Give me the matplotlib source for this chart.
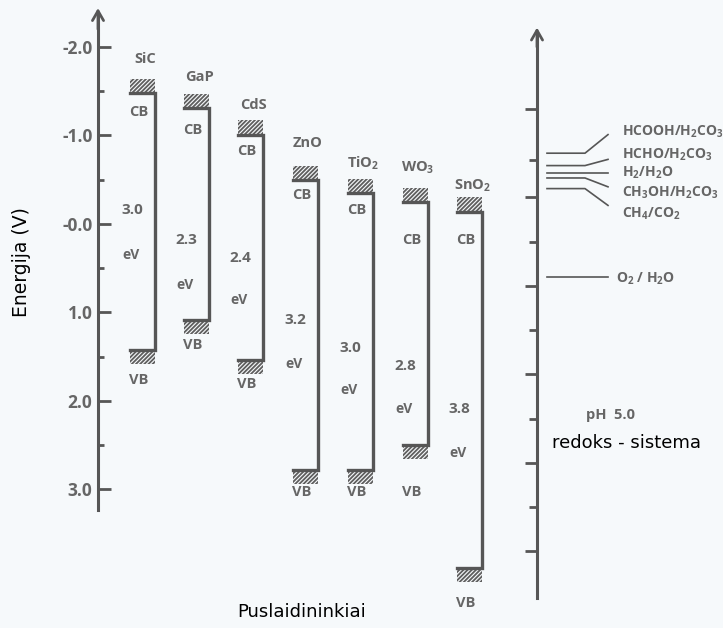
import numpy as np
import matplotlib
matplotlib.use("Agg")
import matplotlib.pyplot as plt

plt.rcParams['font.family'] = ['Open Sans', 'DejaVu Sans']
plt.rcParams['mathtext.default'] = 'regular'
plt.rcParams['hatch.linewidth'] = 1.3

# semiconductors, band edges in V
materials = ['SiC', 'GaP', 'CdS', 'ZnO', 'TiO$_2$', 'WO$_3$', 'SnO$_2$']
cb_edge = [-1.48, -1.31, -1.01, -0.50, -0.35, -0.25, -0.14]
vb_edge = [1.42, 1.08, 1.54, 2.78, 2.78, 2.50, 3.89]
gap_ev = ['3.0', '2.3', '2.4', '3.2', '3.0', '2.8', '3.8']

# redox couples at pH 5.0
couples = ['HCOOH/H$_2$CO$_3$', 'HCHO/H$_2$CO$_3$', 'H$_2$/H$_2$O',
           'CH$_3$OH/H$_2$CO$_3$', 'CH$_4$/CO$_2$', 'O$_2$ / H$_2$O']
redox_pot = [-0.80, -0.66, -0.58, -0.52, -0.40, 0.60]

left_ticks = [-2.0, -1.0, 0.0, 1.0, 2.0, 3.0]
left_labels = ['-2.0', '-1.0', '-0.0', '1.0', '2.0', '3.0']
left_minor = [-1.5, -0.5, 0.5, 1.5, 2.5]
right_major = [-1.3, -0.3, 0.7, 1.7, 2.7, 3.7]
right_minor = [-0.72, 0.2, 1.2, 2.2, 3.2]

# layout (x in pixels, y in V)
band_x = [155, 209, 263, 318, 373, 428, 482]
name_y = [-1.86, -1.66, -1.34, -0.92, -0.69, -0.64, -0.43]
cb_lab_y = [-1.27, -1.06, -0.82, -0.33, -0.16, 0.18, 0.18]
gap_y = [-0.16, 0.18, 0.38, 1.08, 1.40, 1.60, 2.09]
ev_y = [0.35, 0.69, 0.86, 1.58, 1.88, 2.09, 2.59]
vb_lab_y = [1.76, 1.37, 1.81, 3.03, 3.03, 3.03, 4.28]
couple_lab_y = [-1.04, -0.78, -0.58, -0.35, -0.12, 0.62]
couple_end_y = [-1.01, -0.73, -0.58, -0.42, -0.21, 0.60]

gray = '#565656'
tgray = '#666666'
hatch_h = 0.16
band_w = 25

fig = plt.figure(figsize=(7.23, 6.28), dpi=100)
fig.patch.set_facecolor('#f6f9fb')
ax = fig.add_axes([0, 0, 1, 1])
ax.set_facecolor('none')
ax.set_xlim(0, 723)
ax.set_ylim(4.565, -2.531)

# left energy axis
for s in ['top', 'bottom', 'right']:
    ax.spines[s].set_visible(False)
ax.spines['left'].set_position(('data', 98))
ax.spines['left'].set_bounds(-2.37, 3.23)
ax.spines['left'].set_linewidth(2.2)
ax.spines['left'].set_color(gray)
ax.set_xticks([])
ax.set_yticks(left_ticks, left_labels)
ax.set_yticks(left_minor, minor=True)
ax.tick_params(axis='y', which='major', direction='in', length=9, width=2,
               color=gray, labelsize=12.5, labelcolor=tgray, pad=4)
ax.tick_params(axis='y', which='minor', direction='in', length=4.5, width=2,
               color=gray)
for t in ax.get_yticklabels():
    t.set_fontweight('bold')
ax.annotate('', xy=(98, -2.44), xytext=(98, -2.2),
            arrowprops=dict(arrowstyle='->,head_length=0.7,head_width=0.4',
                            lw=2, color=gray, shrinkA=0, shrinkB=0))

# right redox axis
ax2 = ax.twinx()
ax2.set_ylim(4.565, -2.531)
for s in ['top', 'bottom', 'left']:
    ax2.spines[s].set_visible(False)
ax2.spines['right'].set_position(('data', 537))
ax2.spines['right'].set_bounds(-2.15, 4.23)
ax2.spines['right'].set_linewidth(2.2)
ax2.spines['right'].set_color(gray)
ax2.set_yticks(right_major)
ax2.set_yticks(right_minor, minor=True)
ax2.tick_params(axis='y', which='major', direction='in', length=9, width=2,
                color=gray, labelright=False)
ax2.tick_params(axis='y', which='minor', direction='in', length=6, width=2,
                color=gray)
ax2.annotate('', xy=(537, -2.22), xytext=(537, -2.0),
             arrowprops=dict(arrowstyle='->,head_length=0.7,head_width=0.4',
                             lw=2, color=gray, shrinkA=0, shrinkB=0))

# band diagrams
for i, name in enumerate(materials):
    xr = band_x[i]
    xl = xr - band_w
    cb, vb = cb_edge[i], vb_edge[i]
    ax.plot([xl, xr, xr, xl], [cb, cb, vb, vb], color=gray, lw=2.4,
            solid_joinstyle='miter')
    ax.bar(xl + band_w / 2, hatch_h, bottom=cb - hatch_h, width=band_w,
           fill=False, hatch='////////', edgecolor='#5e5e5e', linewidth=0)
    ax.bar(xl + band_w / 2, hatch_h, bottom=vb, width=band_w,
           fill=False, hatch='////////', edgecolor='#5e5e5e', linewidth=0)
    kw = dict(color=tgray, fontweight='bold', ha='center', va='center')
    ax.text(xr - 10, name_y[i], name, fontsize=10.5, **kw)
    ax.text(xr - 16, cb_lab_y[i], 'CB', fontsize=10.5, **kw)
    ax.text(xr - 23, gap_y[i], gap_ev[i], fontsize=11, **kw)
    ax.text(xr - 24, ev_y[i], 'eV', fontsize=10, **kw)
    ax.text(xr - 16, vb_lab_y[i], 'VB', fontsize=10.5, **kw)

# redox levels
for i, lab in enumerate(couples):
    e = redox_pot[i]
    if i == len(couples) - 1:
        ax.plot([547, 608], [e, e], color=gray, lw=1.2)
        ax.text(616, couple_lab_y[i], lab, fontsize=10, color=tgray,
                fontweight='bold', va='center')
    else:
        ax.plot([547, 585, 608], [e, e, couple_end_y[i]], color=gray, lw=1.2)
        ax.text(622, couple_lab_y[i], lab, fontsize=10, color=tgray,
                fontweight='bold', va='center')

ax.text(610, 2.16, 'pH  5.0', fontsize=10.5, color=tgray, fontweight='bold',
        ha='center', va='center')
ax.text(627, 2.47, 'redoks - sistema', fontsize=13, color='black',
        family='DejaVu Sans', ha='center', va='center')
ax.text(22, 0.43, 'Energija (V)', fontsize=13.5, color='black',
        family='DejaVu Sans', rotation=90, ha='center', va='center')
ax.text(302, 4.38, 'Puslaidininkiai', fontsize=13, color='black',
        family='DejaVu Sans', ha='center', va='center')

fig.savefig('out.png', dpi=100, facecolor=fig.get_facecolor())
